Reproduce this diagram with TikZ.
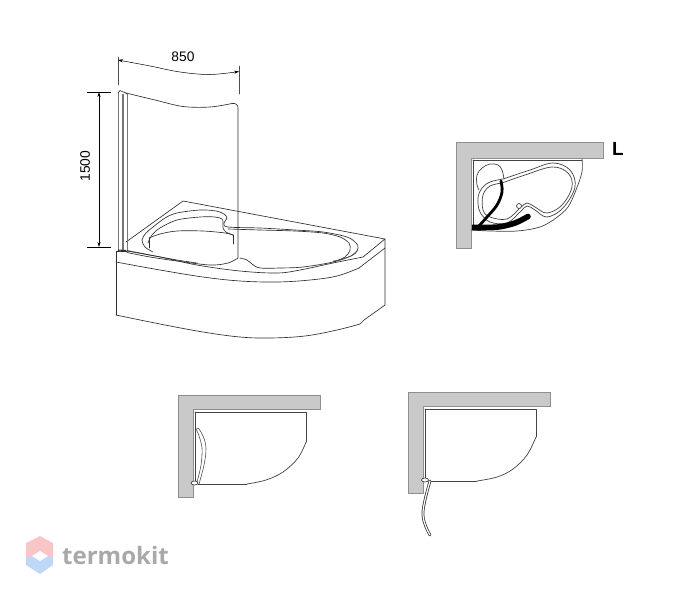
\documentclass[tikz,border=0pt]{standalone}
\usepackage{fontspec}
\setmainfont{Liberation Sans}
\newfontfamily\logofont{Open Sans}
\usetikzlibrary{arrows.meta}
\definecolor{wallfill}{HTML}{C9C9C9}
\definecolor{wallline}{HTML}{8E8E8E}
\definecolor{ink}{HTML}{2E2E2E}
\definecolor{logopink}{HTML}{F9C6C8}
\definecolor{logoblue}{HTML}{BFD8F8}
\definecolor{logotext}{HTML}{A9A9A9}
\tikzset{
  ln/.style={draw=ink,line width=0.65pt,line join=round,line cap=round},
  thinln/.style={draw=ink!85,line width=0.5pt,line join=round,line cap=round},
  postln/.style={draw=ink!65,line width=0.6pt,line join=round},
  planln/.style={draw=ink!90,line width=0.7pt,line join=round,line cap=round},
  wallshape/.style={fill=wallfill,draw=wallline,line width=1pt},
  dimlabel/.style={font=\fontsize{13.8}{14}\selectfont,text=black,inner sep=0pt},
  dimarrow/.style={draw=black,line width=0.6pt,{Stealth[length=5pt,width=3.2pt]}-{Stealth[length=5pt,width=3.2pt]}},
  hinge/.style={draw=ink,fill=white,line width=0.6pt},
}
\begin{document}
\begin{tikzpicture}[x=1pt,y=-1pt]
\useasboundingbox (0,0) rectangle (700,600);
\fill[white] (0,0) rectangle (700,600);

% ---- 3D view: dimensions
\draw[thinln] (118,57) -- (118,85);
\draw[thinln] (239,66) -- (239,94);
\draw[dimarrow,line width=0.5pt] plot[smooth,tension=0.6] coordinates {(118,60) (150,66) (180,72) (210,74.5) (239,71.5)};
\node[dimlabel] (w) at (183,57) {850};
\draw[draw=black,line width=0.8pt] (87,92) -- (111,92);
\draw[draw=black,line width=0.8pt] (87,247) -- (111,247);
\draw[dimarrow] (99,92) -- (99,247);
\node[dimlabel,rotate=90] (h) at (85,166) {1500};

% ---- tub deck and apron
\draw[ln] (126,242) -- (183,201) -- (385,239) -- (363,257);
\draw[ln] plot[smooth,tension=0.6] coordinates {(363,257) (333,263) (300,270) (277,273) (240,271) (197,265) (160,257) (127,251)};
\draw[ln] (127,251) -- (116,251) -- (116,315);
\draw[ln] plot[smooth,tension=0.6] coordinates {(116,262) (160,270) (203,277) (240,281) (277,282) (310,280) (337,276) (359,268)};
\draw[ln] (359,268) -- (385,248);
\draw[ln] (385,239) -- (385,305) -- (364,320);
\draw[ln] plot[smooth,tension=0.6] coordinates {(116,315) (160,324) (203,332) (240,337) (270,338) (305,336) (337,330) (360,324)};
\draw[ln] (360,324) -- (364,320);

% ---- basin
\draw[ln] plot[smooth,tension=0.55] coordinates {(153,252) (145,247) (142,240) (146,233) (153,227) (165,218) (177,213) (200,210) (216,211) (224,214) (227,218) (224,223) (228,227) (260,228) (295,230) (323,232) (347,237) (356,243) (358,248) (353,255) (333,262) (303,267) (280,268) (260,268) (252,264) (247,260) (240,258)};
\draw[ln] plot[smooth,tension=0.55] coordinates {(148,243) (152,235) (160,228) (177,220) (200,217) (215,217) (222,219) (223,223) (223,228) (226,232) (233,235)};
\draw[ln] plot[smooth,tension=0.5] coordinates {(228,229) (260,230) (295,231) (323,233) (340,237) (349,243) (350,250) (345,257) (333,262)};
\draw[ln] (149,248) -- (149,238);
\draw[ln] plot[smooth,tension=0.55] coordinates {(149,238) (160,234) (177,231) (203,231) (225,233) (233,235)};
\draw[ln] (233,235) -- (233,244);
\draw[thinln] (333,261) -- (340,260) -- (351,256) -- (358,250);

% ---- post and glass
\draw[postln] (118,93) -- (118,251);
\draw[postln] (122,94) -- (122,251);
\draw[postln] (123.5,94) -- (123.5,251);
\draw[postln] (127,94) -- (127,251);
\draw[ln] (118,93) -- (120,90.5) -- (123,92) -- (125,92.5) -- (127,94);
\draw[ln] (118,251) -- (127,251.5);
\draw[draw=ink,line width=1.1pt] (118,250) -- (126,250.5);
\draw[ln] plot[smooth,tension=0.55] coordinates {(126,93) (155,100) (183,106.5) (210,107) (232,103.5)};
\draw[ln] (232,103.5) .. controls (236,103) and (238,105) .. (238,108) -- (238,258);
\draw[ln] plot[smooth,tension=0.55] coordinates {(127,252.5) (150,257) (177,261) (210,265) (228,263) (238,258)};
\draw[ln] plot[smooth,tension=0.55] coordinates {(127,250.5) (150,255) (177,260) (197,263)};

% ---- plan L
\draw[wallshape] (456,142) -- (603,142) -- (603,158) -- (471,158) -- (471,248) -- (456,248) -- cycle;
\draw[planln,line width=0.55pt] (473,160) -- (582,160);
\draw[planln,line width=0.55pt] (473,160) -- (473,230);
\draw[planln] plot[smooth,tension=0.55] coordinates {(582,159) (582,172) (576,190) (568,207) (556,218) (540,227) (517,231) (490,231) (472,230)};
% lobe
\draw[planln] plot[smooth,tension=0.6] coordinates {(504,179) (502,170) (498,165) (490,164) (482,168) (477,175) (477,185) (479,190)};
% outer rim
\draw[planln] plot[smooth,tension=0.6] coordinates {(503,179) (490,182) (482,188) (478,198) (480,212) (490,222) (507,223) (520,212) (527,206) (535,210) (547,217) (563,208) (575,187) (570,170) (553,163) (530,170) (503,179)};
% inner rim
\draw[planln] plot[smooth,tension=0.6] coordinates {(502,183) (490,186) (483,195) (483,210) (490,217) (507,219) (520,208) (527,203) (535,207) (547,213) (562,205) (572,187) (568,173) (552,167) (525,175) (502,183)};
\draw[planln,fill=white] (519,206) circle (2.5);
\draw[draw=black,line width=2.8pt,line cap=round] plot[smooth,tension=0.6] coordinates {(501,181) (502,192) (497,205) (487,217) (478,227)};
\draw[draw=black,line width=5.6pt] plot[smooth,tension=0.5] coordinates {(472,227.5) (498,227) (515,223) (528,216.5)};
\fill[black] (528,216.5) circle (2.8);
\node[font=\bfseries\fontsize{19}{22}\selectfont,text=black,inner sep=0pt] (lbl) at (618,149) {L};

% ---- plan bottom-left
\draw[wallshape] (178,395) -- (320,395) -- (320,409) -- (193,409) -- (193,497) -- (178,497) -- cycle;
\draw[planln] (195,412) -- (306,412) -- (306,442);
\draw[planln] (195,412) -- (195,482);
\draw[planln] plot[smooth,tension=0.6] coordinates {(306,442) (298,458) (283,472) (266,480) (247,484)};
\draw[planln] (247,484) -- (198,484);
\draw[planln,line width=0.55pt] plot[smooth,tension=0.6] coordinates {(197,482) (201,465) (202,448) (199,436) (196.5,430)};
\draw[planln,line width=0.55pt] plot[smooth,tension=0.6] coordinates {(199,484) (204,465) (206,448) (203,436) (198,428) (196.5,430)};
\draw[hinge] (194.5,483) ellipse (3.5 and 2);

% ---- plan bottom-right
\draw[wallshape] (408,392) -- (550,392) -- (550,406) -- (423,406) -- (423,493) -- (408,493) -- cycle;
\draw[planln] (425,409) -- (536,409) -- (536,437);
\draw[planln] (425,409) -- (425,479);
\draw[planln] plot[smooth,tension=0.6] coordinates {(536,437) (527,455) (513,469) (497,477) (477,481)};
\draw[planln] (477,481) -- (430,481);
\draw[draw=ink,line width=2.7pt,line cap=round] plot[smooth,tension=0.7] coordinates {(430,481) (425,500) (423,515) (426,527) (430,535)};
\draw[draw=white,line width=1.2pt,line cap=round] plot[smooth,tension=0.7] coordinates {(430,481) (425,500) (423,515) (426,527) (430,535)};
\draw[hinge] (425,480) ellipse (3.5 and 2);

% ---- watermark
\fill[logopink] (26,557) -- (26,543) -- (40,536) -- (53,543) -- (53,557) -- cycle;
\fill[logoblue] (26,557) -- (26,565) -- (40,574) -- (53,565) -- (53,557) -- cycle;
\fill[white] (32,556) -- (40,551) -- (48,556) -- (40,561) -- cycle;
\node[font=\logofont\bfseries\fontsize{24}{26}\selectfont,text=logotext,inner sep=0pt,anchor=west] (logo) at (62,555) {termokit};
\end{tikzpicture}
\end{document}
